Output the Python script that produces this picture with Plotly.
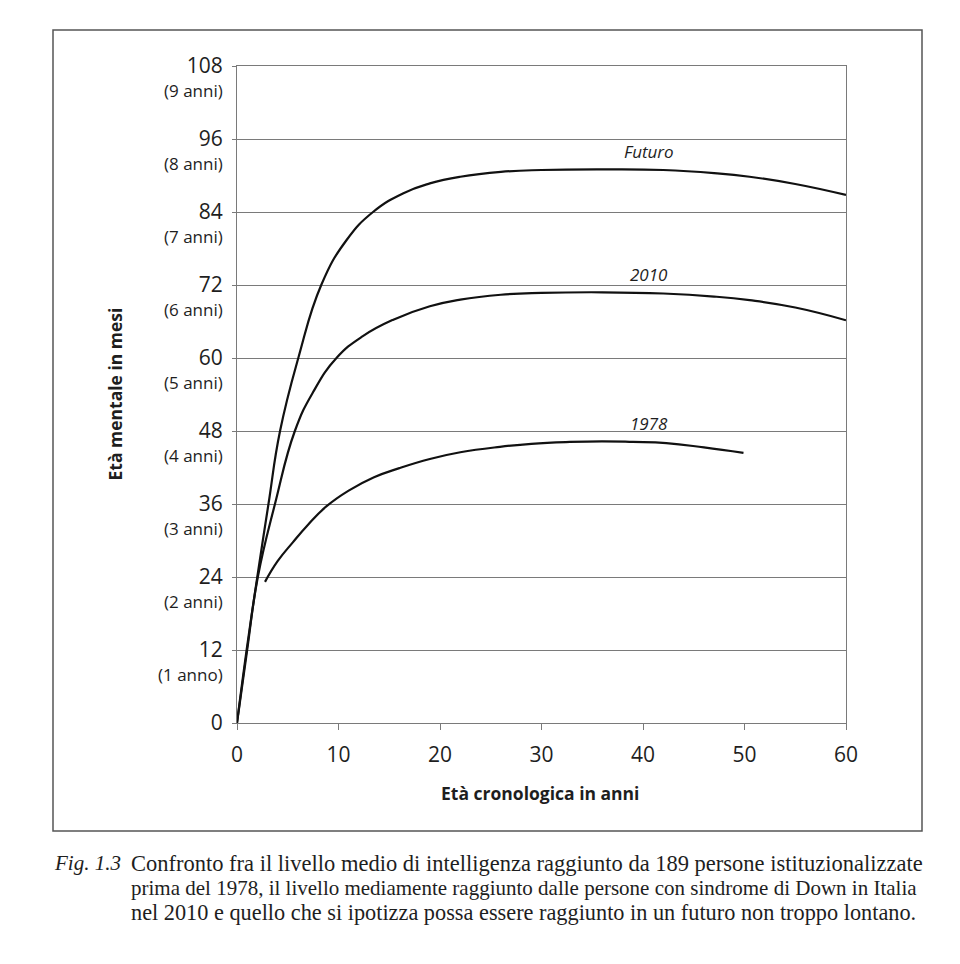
import plotly.graph_objects as go

# ---------------- data ----------------
futuro_x = [0, 0.95, 2.0, 3.1, 4.24, 6.04, 8.3, 10.8, 13.4, 16.4, 19, 22, 26, 30, 36, 42, 47, 50.5, 55, 60]
futuro_y = [0, 12, 24, 36, 48, 60, 72, 79.4, 84.0, 87.1, 88.7, 89.8, 90.6, 90.9, 91.0, 90.9, 90.4, 89.8, 88.6, 86.8]

y2010_x = [0, 1, 2.05, 3.74, 5.7, 7.5, 9.8, 12.4, 15.4, 19, 22, 26, 30, 36, 42, 47, 50.5, 55, 60]
y2010_y = [0, 12, 24, 36, 48, 54.4, 60, 63.6, 66.3, 68.5, 69.6, 70.4, 70.7, 70.8, 70.6, 70.1, 69.5, 68.3, 66.2]

y1978_x = [2.76, 4, 5.5, 7, 8.8, 11, 13.5, 16, 19, 22, 25.9, 29, 32.8, 36, 39, 42.3, 46, 49.9]
y1978_y = [23.2, 26.6, 29.7, 32.6, 35.6, 38.2, 40.4, 41.9, 43.4, 44.5, 45.4, 45.9, 46.2, 46.3, 46.2, 46.0, 45.3, 44.4]

series_names = ["Futuro", "2010", "1978"]
label_pos_x = [40.6, 40.6, 40.6]
label_pos_y = [93.9, 73.8, 49.3]

y_tickvals = [0, 12, 24, 36, 48, 60, 72, 84, 96, 108]
y_ticktext = ["0", "12", "24", "36", "48", "60", "72", "84", "96", "108"]
y_sublabels = ["", "(1 anno)", "(2 anni)", "(3 anni)", "(4 anni)", "(5 anni)",
               "(6 anni)", "(7 anni)", "(8 anni)", "(9 anni)"]
x_tickvals = [0, 10, 20, 30, 40, 50, 60]

x_title = "Età cronologica in anni"
y_title = "Età mentale in mesi"
caption_label = "Fig. 1.3"
caption_lines = [
    "Confronto fra il livello medio di intelligenza raggiunto da 189 persone istituzionalizzate",
    "prima del 1978, il livello mediamente raggiunto dalle persone con sindrome di Down in Italia",
    "nel 2010 e quello che si ipotizza possa essere raggiunto in un futuro non troppo lontano.",
]
caption_sizes = [22.5, 21, 22.3]

# ---------------- layout geometry ----------------
W, H = 960, 964
L, R, T, B = 237, 960 - 846, 66, 964 - 723
PW, PH = W - L - R, H - T - B

def px(xp):
    return (xp - L) / PW

def py(yp):
    return (H - B - yp) / PH

SANS = "Open Sans, Lato, sans-serif"
SERIF = "Liberation Serif, DejaVu Serif, serif"
TXT = "#1e1e1e"
GRID = "#7a7a7a"

fig = go.Figure()
for xs, ys in [(futuro_x, futuro_y), (y2010_x, y2010_y), (y1978_x, y1978_y)]:
    fig.add_trace(go.Scatter(x=xs, y=ys, mode="lines",
                             line=dict(color="#111111", width=2.2, shape="spline", smoothing=1.3),
                             showlegend=False, hoverinfo="skip"))

annotations = []
for name, lx, ly in zip(series_names, label_pos_x, label_pos_y):
    annotations.append(dict(x=lx, y=ly, xref="x", yref="y", text=name, showarrow=False,
                            font=dict(family=SANS, size=17, color=TXT, style="italic"),
                            xanchor="center", yanchor="middle"))

for v, s in zip(y_tickvals, y_sublabels):
    if s:
        annotations.append(dict(x=0, y=v, xref="paper", yref="y", text=s, showarrow=False,
                                xanchor="right", yanchor="middle", xshift=-12, yshift=-24,
                                font=dict(family=SANS, size=17, color=TXT)))

annotations.append(dict(x=px(540), y=py(793), xref="paper", yref="paper", text="<b>" + x_title + "</b>",
                        showarrow=False, xanchor="center", yanchor="middle",
                        font=dict(family=SANS, size=17.5, color=TXT)))
annotations.append(dict(x=px(114), y=0.5, xref="paper", yref="paper", text="<b>" + y_title + "</b>",
                        showarrow=False, xanchor="center", yanchor="middle", textangle=-90,
                        font=dict(family=SANS, size=17.5, color=TXT)))

annotations.append(dict(x=px(52), y=py(863), xref="paper", yref="paper", text="<i>" + caption_label + "</i>",
                        showarrow=False, xanchor="left", yanchor="middle",
                        font=dict(family=SERIF, size=21, color=TXT)))
for i, (line, sz) in enumerate(zip(caption_lines, caption_sizes)):
    annotations.append(dict(x=px(129), y=py(863 + 25 * i), xref="paper", yref="paper", text=line,
                            showarrow=False, xanchor="left", yanchor="middle",
                            font=dict(family=SERIF, size=sz, color=TXT)))

fig.update_layout(
    width=W, height=H,
    margin=dict(l=L, r=R, t=T, b=B),
    paper_bgcolor="white", plot_bgcolor="white",
    annotations=annotations,
    shapes=[dict(type="rect", xref="paper", yref="paper",
                 x0=px(53), x1=px(922), y0=py(831), y1=py(30),
                 line=dict(color="#555555", width=1.5), fillcolor="rgba(0,0,0,0)", layer="below")],
)
fig.update_xaxes(range=[0, 60], tickvals=x_tickvals, showgrid=False, zeroline=False,
                 showline=True, linecolor=GRID, linewidth=1, mirror=True,
                 ticks="outside", ticklen=6, tickcolor=GRID, ticklabelstandoff=7,
                 tickfont=dict(family=SANS, size=21, color=TXT))
fig.update_yaxes(range=[0, 108], tickvals=y_tickvals, ticktext=y_ticktext,
                 showgrid=True, gridcolor=GRID, gridwidth=1, zeroline=False,
                 showline=True, linecolor=GRID, linewidth=1, mirror=True,
                 ticks="outside", ticklen=4, tickcolor=GRID, ticklabelstandoff=5,
                 tickfont=dict(family=SANS, size=21, color=TXT))

fig.write_html("out.html")
